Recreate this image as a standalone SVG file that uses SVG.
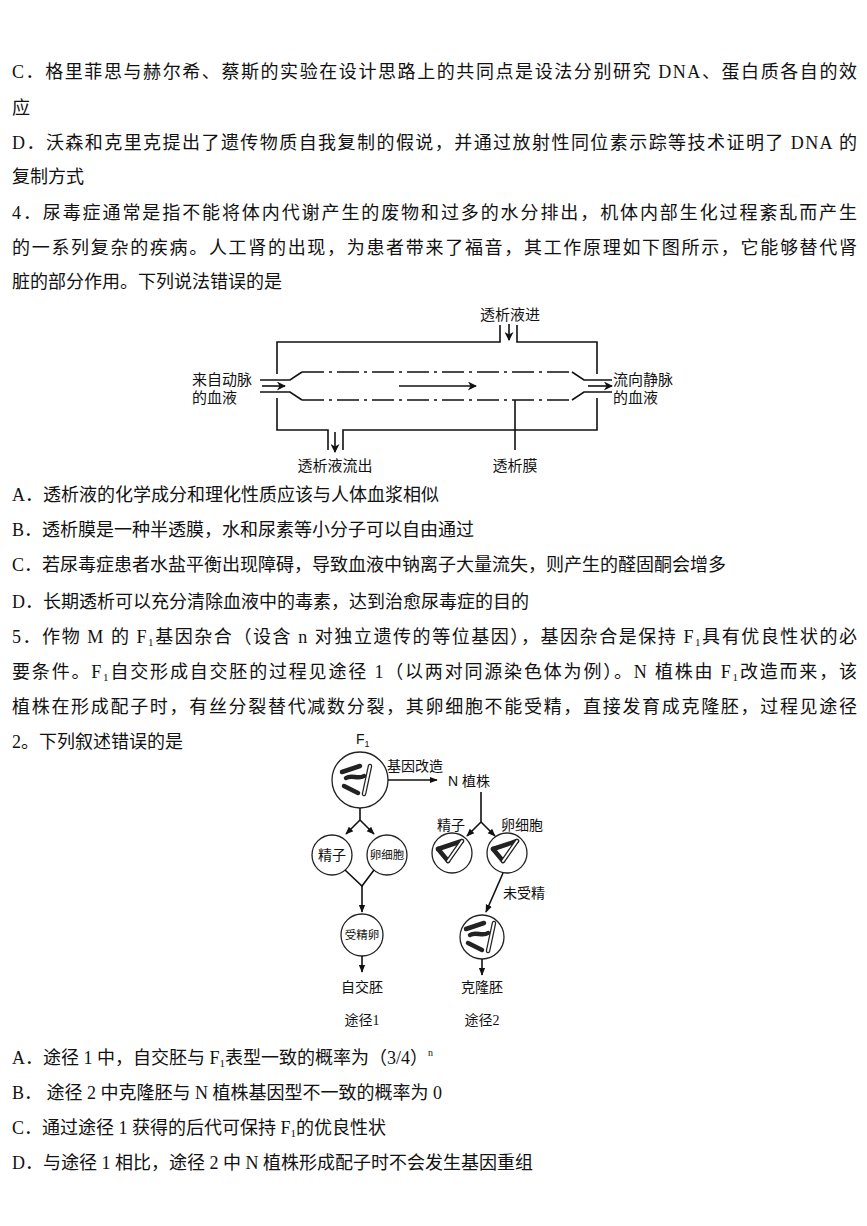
<svg xmlns="http://www.w3.org/2000/svg" width="867" height="1226" viewBox="0 0 867 1226">
<style>
text{font-family:"Liberation Serif","Noto Sans CJK SC",serif;fill:#111}
.b{font-size:18px}
.d{font-family:"Liberation Sans","Noto Sans CJK SC",sans-serif;font-size:14px}
.dl{font-size:15px}
.s{font-size:11.5px}
.l{fill:none;stroke:#111;stroke-width:1.6}
.c{fill:#fff;stroke:#222;stroke-width:1.3}
.ch{fill:none;stroke:#222;stroke-width:4.5;stroke-linecap:round}
.cw{fill:none;stroke:#222;stroke-width:4.5;stroke-linecap:round}
.cwi{fill:none;stroke:#fff;stroke-width:2;stroke-linecap:round}
</style>
<defs>
<marker id="ah" viewBox="0 0 10 10" refX="9" refY="5" markerWidth="8" markerHeight="8" markerUnits="userSpaceOnUse" orient="auto"><path d="M0,1 L10,5 L0,9 Z" fill="#111"/></marker>
<marker id="ah2" viewBox="0 0 10 10" refX="9" refY="5" markerWidth="11" markerHeight="9" markerUnits="userSpaceOnUse" orient="auto"><path d="M0,0 L10,5 L0,10 L3,5 Z" fill="#111"/></marker>
<g id="chrA"><path class="ch" d="M-16,-8 L2,-14"/><path class="ch" d="M-12,-2 C-6,-6 0,0 6,-4"/><path class="ch" d="M-14,6 L0,13"/><path class="cw" d="M12,-14 L6,14"/><path class="cwi" d="M12,-14 L6,14"/></g>
<g id="chrB"><path class="ch" d="M-14,-4 L10,-12"/><path class="ch" d="M-14,-4 L-4,8"/><path class="cw" d="M10,-12 L-4,8"/><path class="cwi" d="M10,-12 L-4,8"/></g>
</defs>

<g id="text-top" class="b">
<text x="12" y="78" textLength="845" lengthAdjust="spacing">C．格里菲思与赫尔希、蔡斯的实验在设计思路上的共同点是设法分别研究 DNA、蛋白质各自的效</text>
<text x="12" y="114">应</text>
<text x="12" y="149" textLength="845" lengthAdjust="spacing">D．沃森和克里克提出了遗传物质自我复制的假说，并通过放射性同位素示踪等技术证明了 DNA 的</text>
<text x="12" y="183">复制方式</text>
<text x="12" y="219" textLength="845" lengthAdjust="spacing">4．尿毒症通常是指不能将体内代谢产生的废物和过多的水分排出，机体内部生化过程紊乱而产生</text>
<text x="12" y="254" textLength="845" lengthAdjust="spacing">的一系列复杂的疾病。人工肾的出现，为患者带来了福音，其工作原理如下图所示，它能够替代肾</text>
<text x="12" y="288">脏的部分作用。下列说法错误的是</text>
</g>

<g id="dialyzer">
<path class="l" d="M500,325 V342 H277 V374 M277,398 V430 H328 V450 M343,450 V430 H597 V398 M597,374 V342 H517 V325"/>
<path class="l" d="M260,380 H290 L302,372 M260,392 H290 L302,400 M572,372 L584,380 H612 M572,400 L584,392 H612"/>
<path class="l" stroke-dasharray="22,5,3,5" d="M302,372 H572 M302,400 H572"/>
</g>

<g id="connectors-dialyzer">
<line class="l" x1="509" y1="324" x2="509" y2="340" marker-end="url(#ah2)"/>
<line class="l" x1="335" y1="432" x2="335" y2="452" marker-end="url(#ah2)"/>
<line class="l" x1="262" y1="386" x2="285" y2="386" marker-end="url(#ah2)"/>
<line class="l" x1="588" y1="386" x2="612" y2="386" marker-end="url(#ah2)"/>
<line class="l" x1="399" y1="386" x2="476" y2="386" marker-end="url(#ah2)"/>
<line class="l" x1="515" y1="400" x2="515" y2="450"/>
</g>

<g id="dialyzer-labels" class="d dl">
<text x="510" y="320" text-anchor="middle">透析液进</text>
<text x="192" y="385">来自动脉</text>
<text x="192" y="403">的血液</text>
<text x="613" y="385">流向静脉</text>
<text x="613" y="403">的血液</text>
<text x="335" y="471" text-anchor="middle">透析液流出</text>
<text x="515" y="471" text-anchor="middle">透析膜</text>
</g>

<g id="text-mid" class="b">
<text x="12" y="501">A．透析液的化学成分和理化性质应该与人体血浆相似</text>
<text x="12" y="536">B．透析膜是一种半透膜，水和尿素等小分子可以自由通过</text>
<text x="12" y="571">C．若尿毒症患者水盐平衡出现障碍，导致血液中钠离子大量流失，则产生的醛固酮会增多</text>
<text x="12" y="608">D．长期透析可以充分清除血液中的毒素，达到治愈尿毒症的目的</text>
<text x="12" y="643" textLength="845" lengthAdjust="spacing">5．作物 M 的 F<tspan font-size="11" dy="3">1</tspan><tspan dy="-3">基因杂合（设含 n 对独立遗传的等位基因），基因杂合是保持 F</tspan><tspan font-size="11" dy="3">1</tspan><tspan dy="-3">具有优良性状的必</tspan></text>
<text x="12" y="678" textLength="845" lengthAdjust="spacing">要条件。F<tspan font-size="11" dy="3">1</tspan><tspan dy="-3">自交形成自交胚的过程见途径 1（以两对同源染色体为例）。N 植株由 F</tspan><tspan font-size="11" dy="3">1</tspan><tspan dy="-3">改造而来，该</tspan></text>
<text x="12" y="713" textLength="845" lengthAdjust="spacing">植株在形成配子时，有丝分裂替代减数分裂，其卵细胞不能受精，直接发育成克隆胚，过程见途径</text>
<text x="12" y="748">2。下列叙述错误的是</text>
</g>

<g id="node-F1"><text x="356" y="744" class="d">F<tspan font-size="9" dy="3">1</tspan></text><circle class="c" cx="360" cy="780" r="28"/><use href="#chrA" x="358" y="780"/></g>
<g id="node-sperm1"><circle class="c" cx="332" cy="855" r="20"/><text x="332" y="860" class="d" text-anchor="middle">精子</text></g>
<g id="node-egg1"><circle class="c" cx="387" cy="855" r="20"/><text x="387" y="859" class="d s" text-anchor="middle">卵细胞</text></g>
<g id="node-zygote"><circle class="c" cx="362" cy="935" r="21"/><text x="362" y="939" class="d s" text-anchor="middle">受精卵</text></g>
<g id="node-N"><text x="448" y="786" class="d">N 植株</text></g>
<g id="node-sperm2"><circle class="c" cx="452" cy="853" r="20"/><use href="#chrB" x="452" y="853"/><text x="451" y="830" class="d" text-anchor="middle">精子</text></g>
<g id="node-egg2"><circle class="c" cx="507" cy="853" r="20"/><use href="#chrB" x="507" y="853"/><text x="522" y="830" class="d" text-anchor="middle">卵细胞</text></g>
<g id="node-clone"><circle class="c" cx="482" cy="937" r="22"/><use href="#chrA" x="482" y="937"/></g>

<g id="connectors-genetics">
<line class="l" x1="388" y1="780" x2="437" y2="780" stroke-width="1.2" marker-end="url(#ah)"/>
<path class="l" stroke-width="1.2" d="M360,808 V820 L346,834" marker-end="url(#ah)"/>
<path class="l" stroke-width="1.2" d="M360,820 L374,834" marker-end="url(#ah)"/>
<path class="l" stroke-width="0.8" d="M345,870 L362,886 L374,870"/>
<line class="l" x1="362" y1="886" x2="362" y2="912" stroke-width="1.2" marker-end="url(#ah)"/>
<line class="l" x1="362" y1="956" x2="362" y2="972" stroke-width="1.2" marker-end="url(#ah)"/>
<path class="l" stroke-width="1.2" d="M481,792 V822 L467,836" marker-end="url(#ah)"/>
<path class="l" stroke-width="1.2" d="M481,822 L495,836" marker-end="url(#ah)"/>
<line class="l" x1="503" y1="873" x2="486" y2="912" stroke-width="1.2" marker-end="url(#ah)"/>
<line class="l" x1="482" y1="959" x2="482" y2="975" stroke-width="1.2" marker-end="url(#ah)"/>
</g>

<g id="genetics-labels" class="d">
<text x="387" y="771">基因改造</text>
<text x="524" y="898" text-anchor="middle">未受精</text>
<text x="362" y="992" text-anchor="middle">自交胚</text>
<text x="482" y="992" text-anchor="middle">克隆胚</text>
<text x="362" y="1025" text-anchor="middle">途径1</text>
<text x="482" y="1025" text-anchor="middle">途径2</text>
</g>

<g id="text-bottom" class="b">
<text x="12" y="1064">A．途径 1 中，自交胚与 F<tspan font-size="11" dy="3">1</tspan><tspan dy="-3">表型一致的概率为（3/4）</tspan><tspan font-size="10" dy="-8">n</tspan></text>
<text x="12" y="1099">B．  途径 2 中克隆胚与 N 植株基因型不一致的概率为 0</text>
<text x="12" y="1134">C．通过途径 1 获得的后代可保持 F<tspan font-size="11" dy="3">1</tspan><tspan dy="-3">的优良性状</tspan></text>
<text x="12" y="1169">D．与途径 1 相比，途径 2 中 N 植株形成配子时不会发生基因重组</text>
</g>
</svg>
